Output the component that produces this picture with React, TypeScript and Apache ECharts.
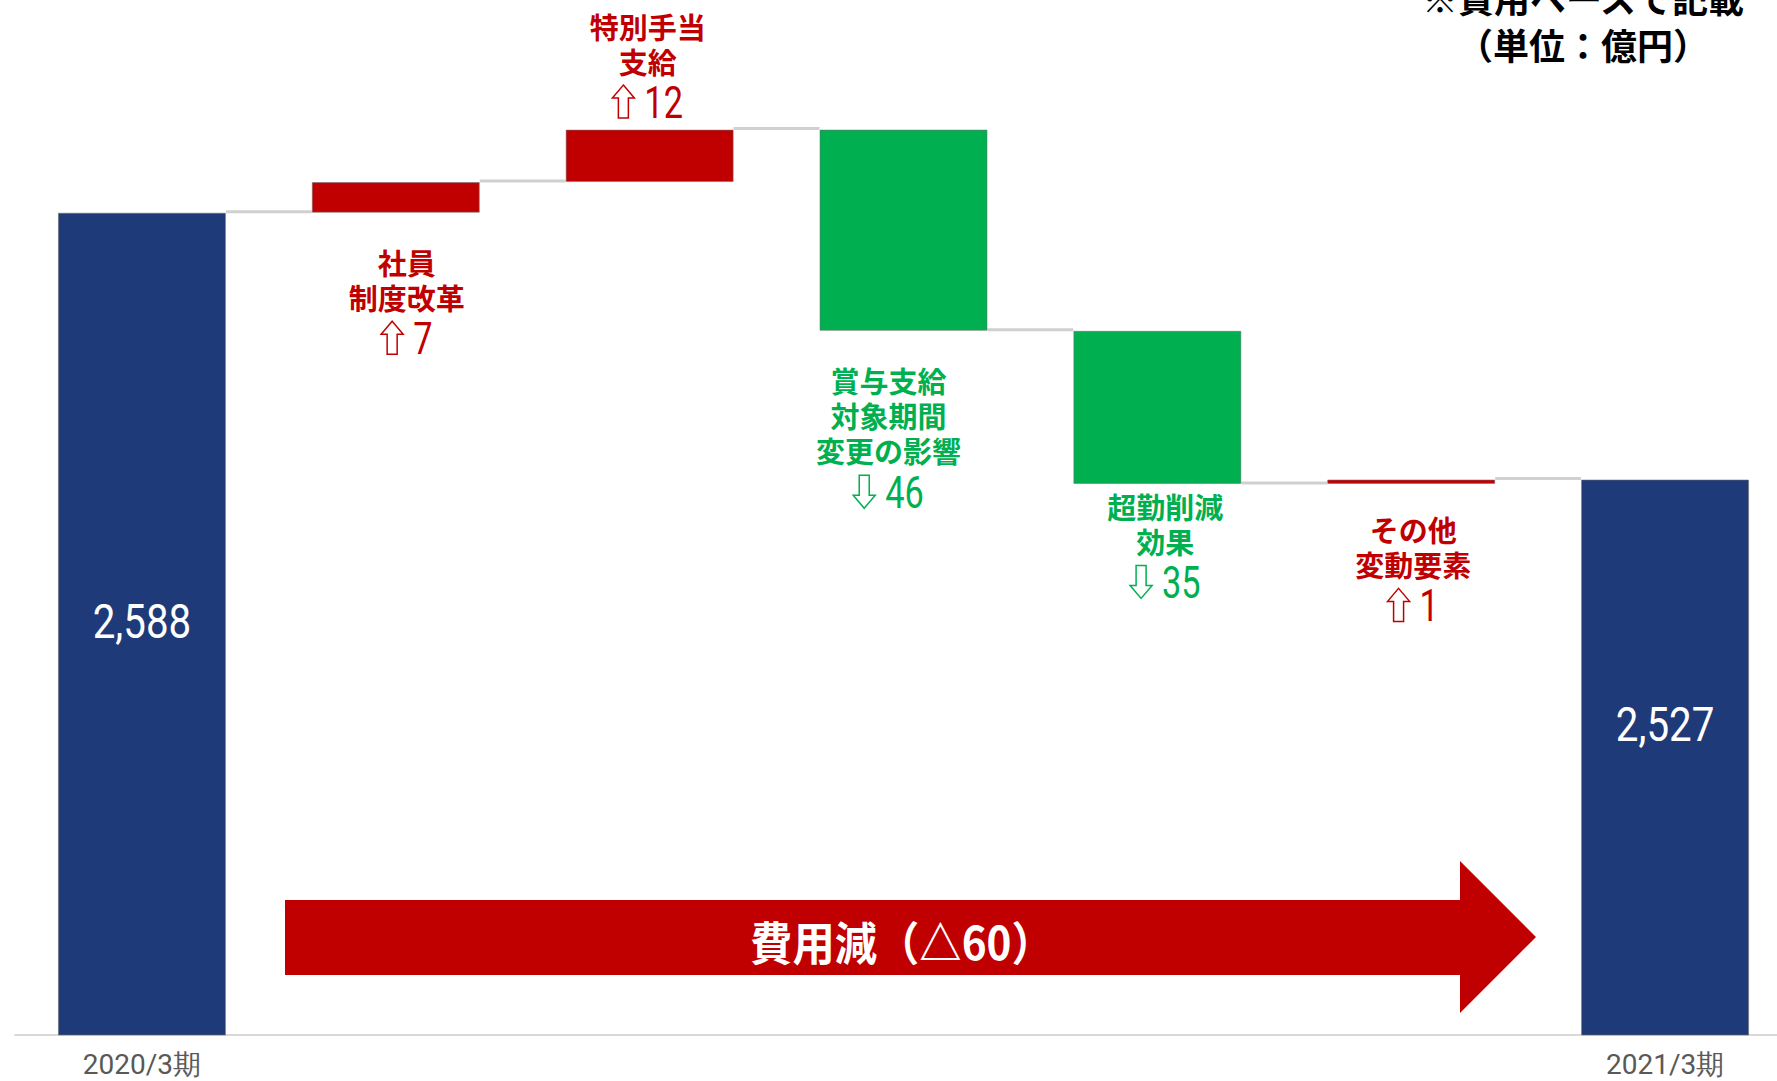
import React, { useEffect, useRef } from 'react';
import * as echarts from 'echarts';

// ---- data ----
const categories = ['2020/3期', '社員制度改革', '特別手当支給', '賞与支給対象期間変更の影響', '超勤削減効果', 'その他変動要素', '2021/3期'];
const changes = [2588, 7, 12, -46, -35, 1, 2527];
const isTotal = [true, false, false, false, false, false, true];
const annotationNames = ['', '社員\n制度改革', '特別手当\n支給', '賞与支給\n対象期間\n変更の影響', '超勤削減\n効果', 'その他\n変動要素', ''];
const Y_MIN = 2400;
const Y_MAX = 2630;
const unitNote = '※費用ベースで記載\n（単位：億円）';
const arrowText = '費用減（△60）';

// ---- layout / style ----
const labelSide = ['inside', 'bottom', 'top', 'bottom', 'bottom', 'bottom', 'inside'];
const labelOffsets = [[0, -2], [11, 31], [-2, -8], [-15, 31], [8, 4], [2, 27], [0, -32]];
const ARROW_POINTS = [[285, 900], [1460, 900], [1460, 861], [1536, 937], [1460, 1013], [1460, 975], [285, 975]];
const NAVY = '#1F3A78';
const RED = '#C00000';
const GREEN = '#00B050';
const BAR_W = 168;
const NUM_FONT = 'Roboto, sans-serif';
const CJK = '"Noto Sans CJK JP", sans-serif';
const NAME_LH = 36;
const NUM_LH = 42;
const NUM_SIZE = 44;
const NUM_SCALE = 0.78;

function arrowPoints(cx: number, cy: number, up: boolean) {
  const s = up ? 1 : -1;
  const pts = [[0, -16.5], [11, -3.5], [5, -3.5], [5, 16.5], [-5, 16.5], [-5, -3.5], [-11, -3.5]];
  return pts.map(([x, y]) => [cx + x, cy + s * y]);
}

export default function App() {
  const ref = useRef<HTMLDivElement>(null);
  useEffect(() => {
    if (!ref.current) return;
    const chart = echarts.init(ref.current, undefined, { renderer: 'svg' });

    const baseVals: any[] = [];
    const barVals: number[] = [];
    const levels: number[] = [];
    const anchors: number[] = [];
    let run = 0;
    changes.forEach((v, i) => {
      if (isTotal[i]) { baseVals.push('-'); barVals.push(v); run = v; anchors.push(v); }
      else if (v >= 0) {
        baseVals.push(run); barVals.push(v);
        anchors.push(labelSide[i] === 'top' ? run + v : run);
        run += v;
      } else {
        run += v; baseVals.push(run); barVals.push(-v);
        anchors.push(labelSide[i] === 'top' ? run - v : run);
      }
      levels.push(run);
    });
    const connectors = levels.slice(0, -1).map((v, i) => [i, v]);

    const valueData = barVals.map((h, i) => {
      const color = isTotal[i] ? NAVY : changes[i] >= 0 ? RED : GREEN;
      return { value: h, itemStyle: { color, borderColor: 'rgba(110,110,110,0.55)', borderWidth: 1 } };
    });

    chart.setOption({
      animation: false,
      grid: { left: 15, top: 29, width: 1777, bottom: 46, containLabel: false, outerBoundsMode: 'none' },
      xAxis: {
        type: 'category',
        data: categories,
        axisLine: { show: true, lineStyle: { color: '#d9d9d9', width: 2 } },
        axisTick: { show: false },
        axisLabel: {
          interval: 0, margin: 16, color: '#595959', fontSize: 28, lineHeight: 26, fontFamily: NUM_FONT,
          formatter: (v: string, i: number) => (isTotal[i] ? v : ''),
        },
      },
      yAxis: { type: 'value', min: Y_MIN, max: Y_MAX, show: false, splitLine: { show: false } },
      series: [
        {
          type: 'bar', stack: 'w', barWidth: BAR_W, data: baseVals,
          itemStyle: { color: 'transparent' }, silent: true,
        },
        {
          type: 'bar', stack: 'w', barWidth: BAR_W, data: valueData,
        },
        {
          type: 'custom',
          data: connectors,
          z: 1,
          renderItem: (params: any, api: any) => {
            const i = api.value(0);
            const v = api.value(1);
            const p1 = api.coord([i, v]);
            const p2 = api.coord([i + 1, v]);
            return {
              type: 'line',
              shape: { x1: p1[0] + BAR_W / 2, y1: p1[1] - 1, x2: p2[0] - BAR_W / 2, y2: p1[1] - 1 },
              style: { stroke: '#d0d0d0', lineWidth: 3 },
            };
          },
        },
        {
          type: 'custom',
          data: anchors.map((v, i) => [i, v]),
          z: 10,
          clip: false,
          renderItem: (params: any, api: any) => {
            const i = params.dataIndex;
            const p = api.coord([api.value(0), api.value(1)]);
            const [dx, dy] = labelOffsets[i];
            const cx = p[0] + dx;
            if (isTotal[i]) {
              const bottom = params.coordSys.y + params.coordSys.height;
              const cy = (p[1] + bottom) / 2 + dy;
              return {
                type: 'text', x: cx, y: cy, scaleX: 0.84,
                style: {
                  text: changes[i].toLocaleString('en-US'), fill: '#fff', fontSize: 48, fontFamily: NUM_FONT,
                  align: 'center', verticalAlign: 'middle',
                },
              };
            }
            const up = changes[i] >= 0;
            const color = up ? RED : GREEN;
            const names = annotationNames[i].split('\n');
            const blockH = names.length * NAME_LH + NUM_LH;
            const top = labelSide[i] === 'top' ? p[1] + dy - blockH : p[1] + dy;
            const numStr = String(Math.abs(changes[i]));
            const numW = numStr.length * 0.5615 * NUM_SIZE * NUM_SCALE;
            const total = 22 + 10 + numW;
            const startX = cx - total / 2;
            const numY = top + names.length * NAME_LH + NUM_LH / 2 + 1;
            return {
              type: 'group',
              children: [
                {
                  type: 'text', x: cx, y: top + 1,
                  style: {
                    text: names.join('\n'), fill: color, fontSize: 29, fontWeight: 'bold', fontFamily: CJK,
                    lineHeight: NAME_LH - 1, align: 'center', verticalAlign: 'top',
                  },
                },
                {
                  type: 'polygon',
                  shape: { points: arrowPoints(startX + 11, numY, up) },
                  style: { fill: '#fff', stroke: color, lineWidth: 1.5 },
                },
                {
                  type: 'text', x: startX + 32, y: numY + 1, scaleX: NUM_SCALE,
                  style: {
                    text: numStr, fill: color, fontSize: NUM_SIZE, fontFamily: NUM_FONT,
                    align: 'left', verticalAlign: 'middle',
                  },
                },
              ],
            };
          },
        },
      ],
      graphic: [
        { type: 'polygon', shape: { points: ARROW_POINTS }, style: { fill: RED }, silent: true },
        {
          type: 'text', x: 902, y: 940, scaleX: 0.92,
          style: { text: arrowText, fill: '#fff', fontSize: 46, fontWeight: 'bold', fontFamily: CJK, align: 'center', verticalAlign: 'middle' },
        },
        {
          type: 'text', x: 1583, y: 20,
          style: { text: unitNote, fill: '#000', fontSize: 36, fontWeight: 'bold', fontFamily: CJK, align: 'center', verticalAlign: 'middle', lineHeight: 47 },
        },
      ],
    });
    return () => chart.dispose();
  }, []);

  return <div ref={ref} style={{ position: 'absolute', left: 0, top: 0, width: 1777, height: 1081, background: '#fff' }} />;
}
